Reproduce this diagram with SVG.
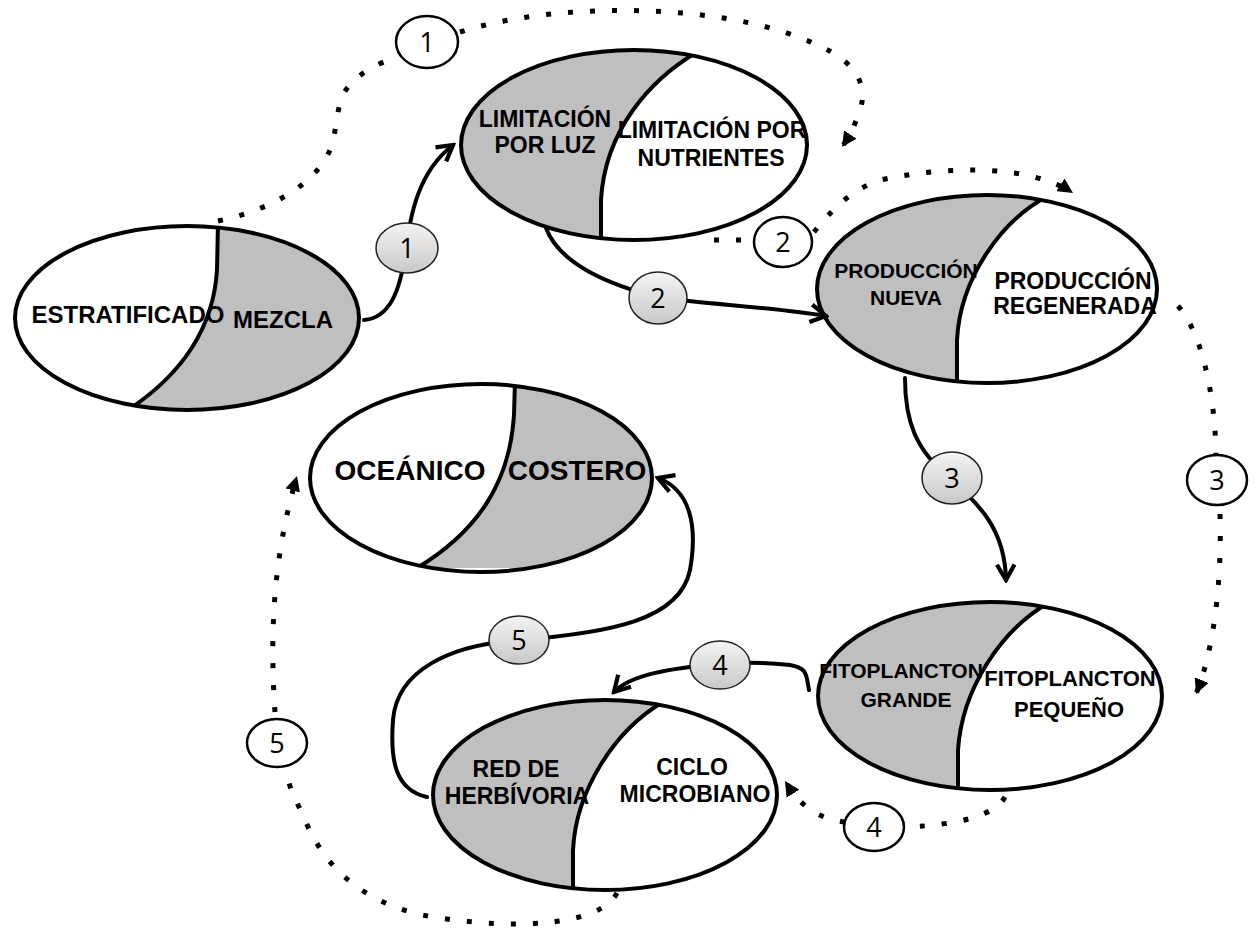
<svg xmlns="http://www.w3.org/2000/svg" width="1257" height="934" viewBox="0 0 1257 934">
<style>
.ell{fill:none;stroke:#000;stroke-width:4}
.bg{fill:#fff}
.gray{fill:#bfbfbf}
.div{fill:none;stroke:#000;stroke-width:4}
.t{font-family:"Liberation Sans",Arial,sans-serif;font-weight:bold;fill:#000;text-anchor:middle}
.solid{fill:none;stroke:#000;stroke-width:4;stroke-linecap:round}
.dot{fill:none;stroke:#000;stroke-width:5;stroke-dasharray:5 17}
.gc{fill:url(#gg);stroke:#222;stroke-width:1.5}
.wc{fill:#fff;stroke:#000;stroke-width:2.5}
.n{font-family:"Open Sans","Liberation Sans",sans-serif;font-size:27px;fill:#000;text-anchor:middle}
</style>
<defs>
<linearGradient id="gg" x1="0" y1="0" x2="0" y2="1">
<stop offset="0" stop-color="#f4f4f4"/>
<stop offset="1" stop-color="#c8c8c8"/>
</linearGradient>
<marker id="va" viewBox="0 0 20 20" refX="17" refY="10" markerWidth="22" markerHeight="22" markerUnits="userSpaceOnUse" orient="auto">
<path d="M3,2 L17,10 L3,18" fill="none" stroke="#000" stroke-width="3.8"/>
</marker>
<marker id="ta" viewBox="0 0 10 10" refX="10" refY="5" markerWidth="15" markerHeight="15" markerUnits="userSpaceOnUse" orient="auto">
<path d="M0,0 L10,5 L0,10 Z" fill="#000"/>
</marker>
<clipPath id="cA"><ellipse cx="187" cy="318" rx="172" ry="92"/></clipPath>
<clipPath id="cB"><ellipse cx="634" cy="145" rx="173" ry="95"/></clipPath>
<clipPath id="cC"><ellipse cx="987" cy="289" rx="170" ry="94"/></clipPath>
<clipPath id="cD"><ellipse cx="481" cy="478" rx="171" ry="94"/></clipPath>
<clipPath id="cE"><ellipse cx="990" cy="696" rx="172" ry="94"/></clipPath>
<clipPath id="cF"><ellipse cx="605" cy="795" rx="172" ry="95"/></clipPath>
</defs>

<g id="node-estratificado-mezcla">
<ellipse class="bg" cx="187" cy="318" rx="172" ry="92"/>
<path class="gray" clip-path="url(#cA)" d="M218,222 L217,270 C214,320 190,370 125,412 L370,412 L370,222 Z"/>
<path class="div" clip-path="url(#cA)" d="M218,222 L217,270 C214,320 190,370 125,412"/>
<ellipse class="ell" cx="187" cy="318" rx="172" ry="92"/>
<text class="t" x="128" y="323" font-size="24">ESTRATIFICADO</text>
<text class="t" x="283" y="328" font-size="24">MEZCLA</text>
</g>

<g id="node-limitacion">
<ellipse class="bg" cx="634" cy="145" rx="173" ry="95"/>
<path class="gray" clip-path="url(#cB)" d="M697,52 C650,80 605,130 601,200 L601,245 L450,245 L450,45 Z"/>
<path class="div" clip-path="url(#cB)" d="M697,52 C650,80 605,130 601,200 L601,245"/>
<ellipse class="ell" cx="634" cy="145" rx="173" ry="95"/>
<text class="t" x="545" y="127" font-size="23">LIMITACIÓN</text>
<text class="t" x="545" y="153" font-size="23">POR LUZ</text>
<text class="t" x="712" y="138" font-size="23">LIMITACIÓN POR</text>
<text class="t" x="711" y="166" font-size="23">NUTRIENTES</text>
</g>

<g id="node-produccion">
<ellipse class="bg" cx="987" cy="289" rx="170" ry="94"/>
<path class="gray" clip-path="url(#cC)" d="M1050,195 C1000,220 960,280 957,340 L957,388 L810,388 L810,190 Z"/>
<path class="div" clip-path="url(#cC)" d="M1050,195 C1000,220 960,280 957,340 L957,388"/>
<ellipse class="ell" cx="987" cy="289" rx="170" ry="94"/>
<text class="t" x="906" y="278" font-size="21">PRODUCCIÓN</text>
<text class="t" x="906" y="305" font-size="21">NUEVA</text>
<text class="t" x="1073" y="289" font-size="23">PRODUCCIÓN</text>
<text class="t" x="1075" y="314" font-size="23">REGENERADA</text>
</g>

<g id="node-oceanico-costero">
<ellipse class="bg" cx="481" cy="478" rx="171" ry="94"/>
<path class="gray" clip-path="url(#cD)" d="M515,380 L514,415 C510,480 480,530 417,568 L660,568 L660,380 Z"/>
<path class="div" clip-path="url(#cD)" d="M515,380 L514,415 C510,480 480,530 417,568"/>
<ellipse class="ell" cx="481" cy="478" rx="171" ry="94"/>
<text class="t" x="410" y="480" font-size="28">OCEÁNICO</text>
<text class="t" x="577" y="480" font-size="28">COSTERO</text>
</g>

<g id="node-fitoplancton">
<ellipse class="bg" cx="990" cy="696" rx="172" ry="94"/>
<path class="gray" clip-path="url(#cE)" d="M1050,602 C1000,630 962,690 958,750 L958,795 L810,795 L810,595 Z"/>
<path class="div" clip-path="url(#cE)" d="M1050,602 C1000,630 962,690 958,750 L958,795"/>
<ellipse class="ell" cx="990" cy="696" rx="172" ry="94"/>
<text class="t" x="901" y="678" font-size="21">FITOPLANCTON</text>
<text class="t" x="906" y="707" font-size="21">GRANDE</text>
<text class="t" x="1070" y="686" font-size="22">FITOPLANCTON</text>
<text class="t" x="1069" y="717" font-size="22">PEQUEÑO</text>
</g>

<g id="node-red-ciclo">
<ellipse class="bg" cx="605" cy="795" rx="172" ry="95"/>
<path class="gray" clip-path="url(#cF)" d="M663,702 C615,730 576,790 573,850 L573,895 L425,895 L425,695 Z"/>
<path class="div" clip-path="url(#cF)" d="M663,702 C615,730 576,790 573,850 L573,895"/>
<ellipse class="ell" cx="605" cy="795" rx="172" ry="95"/>
<text class="t" x="516" y="777" font-size="23">RED DE</text>
<text class="t" x="517" y="804" font-size="23">HERBÍVORIA</text>
<text class="t" x="692" y="775" font-size="23">CICLO</text>
<text class="t" x="695" y="802" font-size="23">MICROBIANO</text>
</g>

<g id="connectors">
<!-- solid -->
<path class="solid" marker-end="url(#va)" d="M364,320 C390,318 400,290 405,255 C410,215 418,172 453,145"/>
<path class="solid" marker-end="url(#va)" d="M546,228 C560,265 610,285 660,298 C720,305 780,308 826,316"/>
<path class="solid" marker-end="url(#va)" d="M905,378 C905,420 915,450 950,478 C980,505 1005,530 1006,580"/>
<path class="solid" marker-end="url(#va)" d="M809,690 C806,675 808,668 790,665 C760,662 740,662 720,664 C670,668 630,675 614,692"/>
<path class="solid" marker-end="url(#va)" d="M427,797 C395,790 390,760 393,720 C397,670 450,645 519,640 C610,633 680,620 690,570 C698,525 690,490 658,478"/>
<!-- dotted -->
<path class="dot" d="M218,221 C270,210 315,185 330,150 C340,120 335,100 350,85 C362,72 375,64 398,57"/>
<path class="dot" marker-end="url(#ta)" d="M460,32 C560,0 720,5 800,38 C850,55 870,80 860,110 C855,125 850,135 842,147"/>
<path class="dot" d="M714,240 L754,240"/>
<path class="dot" marker-end="url(#ta)" d="M814,232 C830,212 850,190 880,180 C950,165 1030,165 1073,193"/>
<path class="dot" d="M1178,306 C1200,330 1215,390 1216,455"/>
<path class="dot" marker-end="url(#ta)" d="M1220,514 C1222,580 1214,650 1196,694"/>
<path class="dot" d="M1005,797 C995,815 960,825 905,827"/>
<path class="dot" marker-end="url(#ta)" d="M845,822 C815,818 800,805 785,781"/>
<path class="dot" d="M617,893 C600,925 520,930 440,918 C380,910 330,880 305,820 C296,800 290,790 286,772"/>
<path class="dot" marker-end="url(#ta)" d="M275,712 C270,640 272,560 297,476"/>
<!-- gray number labels -->
<ellipse class="gc" cx="407" cy="248" rx="31" ry="25"/><text class="n" x="407" y="258">1</text>
<ellipse class="gc" cx="658" cy="298" rx="29" ry="26"/><text class="n" x="658" y="308">2</text>
<ellipse class="gc" cx="952" cy="478" rx="30" ry="26"/><text class="n" x="952" y="488">3</text>
<ellipse class="gc" cx="720" cy="665" rx="30" ry="24"/><text class="n" x="720" y="675">4</text>
<ellipse class="gc" cx="519" cy="640" rx="30" ry="24"/><text class="n" x="519" y="650">5</text>
<!-- outlined number labels -->
<ellipse class="wc" cx="427" cy="42" rx="31" ry="26"/><text class="n" x="427" y="52">1</text>
<ellipse class="wc" cx="783" cy="242" rx="29" ry="25"/><text class="n" x="783" y="252">2</text>
<ellipse class="wc" cx="1217" cy="480" rx="30" ry="25"/><text class="n" x="1217" y="490">3</text>
<ellipse class="wc" cx="874" cy="827" rx="30" ry="24"/><text class="n" x="874" y="837">4</text>
<ellipse class="wc" cx="277" cy="743" rx="30" ry="24"/><text class="n" x="277" y="753">5</text>
</g>
</svg>
